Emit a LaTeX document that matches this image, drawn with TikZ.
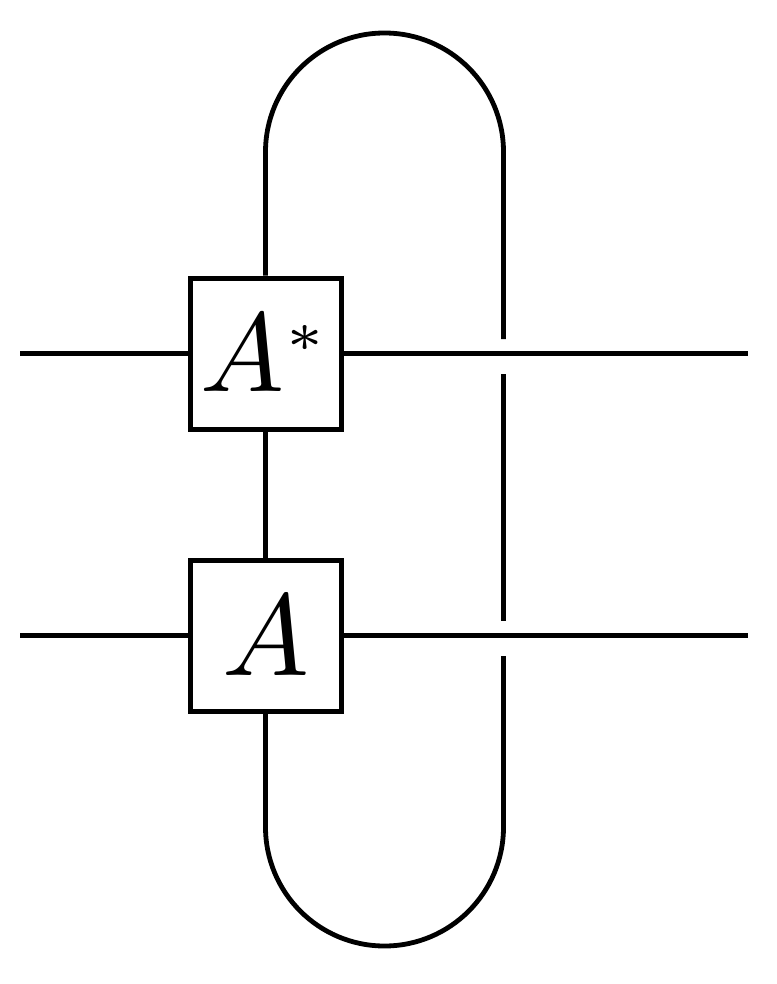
\documentclass[tikz,border=0pt]{standalone}
\usepackage{graphicx}
\begin{document}
\begin{tikzpicture}[x=0.5pt,y=-0.5pt,
  wire/.style={line width=2.4pt},
  tensor/.style={draw,line width=2.5pt,minimum size=75.5pt,inner sep=0pt,fill=white}]
\useasboundingbox (0,0) rectangle (776,984);
\node[tensor] (Astar) at (265.5,353.5) {\scalebox{5.6}{$A^{\scriptscriptstyle *}$}};
\node[tensor] (A) at (265.5,635.5) {\scalebox{5.8}{$A$}};
\coordinate (l1) at (20,353.5);
\coordinate (r1) at (748,353.5);
\coordinate (l2) at (20,635.5);
\coordinate (r2) at (748,635.5);
\draw[wire] (l1) -- (Astar.west);
\draw[wire] (Astar.east) -- (r1);
\draw[wire] (l2) -- (A.west);
\draw[wire] (A.east) -- (r2);
\draw[wire] (Astar.south) -- (A.north);
\draw[wire] (Astar.north) -- (265.5,152) arc[start angle=180,end angle=0,radius=59.5pt] -- (503.5,339);
\draw[wire] (503.5,374) -- (503.5,621);
\draw[wire] (A.south) -- (265.5,827) arc[start angle=180,end angle=360,radius=59.5pt] -- (503.5,656);
\end{tikzpicture}
\end{document}
